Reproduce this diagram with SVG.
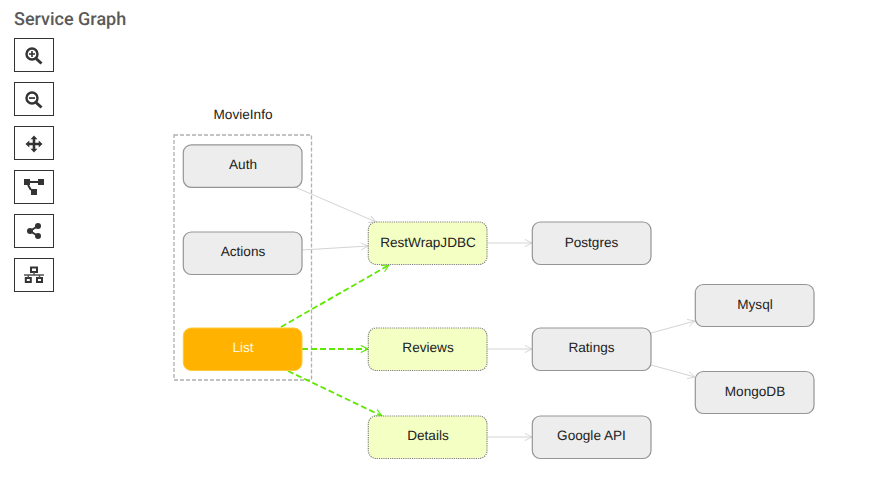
<svg xmlns="http://www.w3.org/2000/svg" width="870" height="490" viewBox="0 0 870 490">
<style>
text{font-family:"Liberation Sans",Arial,sans-serif;font-size:13.600px;fill:#222;text-anchor:middle;text-rendering:geometricPrecision}
.title{font-family:Roboto,sans-serif;font-size:18px;font-weight:500;fill:#5a5a5a;text-anchor:start}
.btn{fill:#fff;stroke:#333;stroke-width:1}
.ic{fill:#333;stroke:none}
.ics{fill:none;stroke:#333;stroke-width:2}
.n rect{fill:#ededed;stroke:#959595;stroke-width:1.200}
.y rect{fill:#f4ffc4;stroke:#808080;stroke-width:1.200;stroke-dasharray:1.200 1}
.o rect{fill:#ffb300;stroke:#ffc93a;stroke-width:1}
.o text{fill:#fff8e0}
.e{fill:none;stroke:#d4d4d4;stroke-width:1;marker-end:url(#ga)}
.g{fill:none;stroke:#5fe800;stroke-width:1.800;stroke-dasharray:6 3;marker-end:url(#gr)}
</style>
<defs>
<marker id="ga" markerUnits="userSpaceOnUse" viewBox="0 0 10 10" refX="9" refY="5" markerWidth="9" markerHeight="9" orient="auto"><path d="M1 1 L9 5 L1 9" fill="none" stroke="#d4d4d4" stroke-width="1"/></marker>
<marker id="gr" markerUnits="userSpaceOnUse" viewBox="0 0 10 10" refX="9" refY="5" markerWidth="9" markerHeight="9" orient="auto"><path d="M1 1 L9 5 L1 9" fill="none" stroke="#5fe800" stroke-width="1.300"/></marker>
</defs>
<rect width="870" height="490" fill="#fff"/>
<text class="title" x="14" y="25">Service Graph</text>
<g id="toolbar">
<g id="btn-zoom-in"><rect class="btn" x="14.500" y="38.500" width="39" height="33"/><circle cx="32" cy="54" r="5.500" fill="none" stroke="#333" stroke-width="2.400"/><path d="M36 58.500 L41.500 63.500" fill="none" stroke="#333" stroke-width="3"/><path class="ic" d="M31.200 51h1.600v2.200H35v1.600h-2.200V57h-1.600v-2.200H29v-1.600h2.200z"/></g>
<g id="btn-zoom-out"><rect class="btn" x="14.500" y="82.500" width="39" height="33"/><circle cx="32" cy="98" r="5.500" fill="none" stroke="#333" stroke-width="2.400"/><path d="M36 102.500 L41.500 107.500" fill="none" stroke="#333" stroke-width="3"/><rect class="ic" x="29" y="97.200" width="6" height="1.700"/></g>
<g id="btn-pan"><rect class="btn" x="14.500" y="126.500" width="39" height="33"/><path class="ic" d="M34 135.500l3.500 3.800h-2.200v3.400h3.400v-2.200l3.800 3.500-3.800 3.500v-2.200h-3.400v3.400h2.200l-3.500 3.800-3.500-3.800h2.200v-3.400h-3.400v2.200l-3.800-3.500 3.800-3.500v2.200h3.400v-3.400h-2.200z"/></g>
<g id="btn-layout"><rect class="btn" x="14.500" y="170.500" width="39" height="33"/><rect class="ic" x="24" y="179" width="6" height="6"/><rect class="ic" x="38" y="179" width="6" height="6"/><rect class="ic" x="31" y="189" width="6" height="6"/><path class="ics" d="M29 182H38M28 185L31 190"/></g>
<g id="btn-share"><rect class="btn" x="14.500" y="214.500" width="39" height="33"/><circle class="ic" cx="38" cy="226" r="3"/><circle class="ic" cx="38" cy="236" r="3"/><circle class="ic" cx="30" cy="231" r="3"/><path class="ics" d="M38 226L30 231L38 236"/></g>
<g id="btn-network"><rect class="btn" x="14.500" y="258.500" width="39" height="33"/><rect x="31" y="267.500" width="6" height="4.500" fill="#fff" stroke="#333" stroke-width="2"/><rect x="25.800" y="278" width="5" height="4" fill="#fff" stroke="#333" stroke-width="2"/><rect x="37" y="278" width="5" height="4" fill="#fff" stroke="#333" stroke-width="2"/><path d="M24 275H44M34 272V275M28.300 275V278M39.500 275V278" fill="none" stroke="#555" stroke-width="1.500"/></g>
</g>
<g id="group-movieinfo"><rect x="174" y="135" width="137.500" height="245" fill="none" stroke="#b0b0b0" stroke-width="1.300" stroke-dasharray="4 2"/><text x="243" y="118.800">MovieInfo</text></g>
<g id="connectors">
<path class="e" d="M295 187 L376 222"/>
<path class="e" d="M302 250 L368 246"/>
<path class="e" d="M487 243 L532 243"/>
<path class="e" d="M487 349 L532 349"/>
<path class="e" d="M487 437 L532 437"/>
<path class="e" d="M651 333 L695 321"/>
<path class="e" d="M651 365 L695 377"/>
<path class="g" d="M281 327 L389 265"/>
<path class="g" d="M302 349 L368 349"/>
<path class="g" d="M288 371 L382 416"/>
</g>
<g id="auth" class="n"><rect x="183.300" y="144.800" width="118.700" height="42.500" rx="8"/><text x="243" y="168.800">Auth</text></g>
<g id="actions" class="n"><rect x="183.300" y="232" width="118.700" height="42.500" rx="8"/><text x="243" y="256">Actions</text></g>
<g id="list" class="o"><rect x="183.300" y="328" width="118.700" height="42.500" rx="8"/><text x="243" y="352">List</text></g>
<g id="restwrapjdbc" class="y"><rect x="368.300" y="222" width="118.700" height="42.500" rx="8"/><text x="428" y="246.500">RestWrapJDBC</text></g>
<g id="reviews" class="y"><rect x="368.300" y="328" width="118.700" height="42.500" rx="8"/><text x="428" y="352">Reviews</text></g>
<g id="details" class="y"><rect x="368.300" y="416" width="118.700" height="42.500" rx="8"/><text x="428" y="440">Details</text></g>
<g id="postgres" class="n"><rect x="532.300" y="222" width="118.700" height="42.500" rx="8"/><text x="591.500" y="246.500">Postgres</text></g>
<g id="ratings" class="n"><rect x="532.300" y="328" width="118.700" height="42.500" rx="8"/><text x="591.500" y="352">Ratings</text></g>
<g id="googleapi" class="n"><rect x="532.300" y="416" width="118.700" height="42.500" rx="8"/><text x="591.500" y="440">Google API</text></g>
<g id="mysql" class="n"><rect x="695.300" y="284.500" width="118.700" height="42" rx="8"/><text x="755" y="308.500">Mysql</text></g>
<g id="mongodb" class="n"><rect x="695.300" y="371.500" width="118.700" height="42" rx="8"/><text x="755" y="395.500">MongoDB</text></g>
</svg>
